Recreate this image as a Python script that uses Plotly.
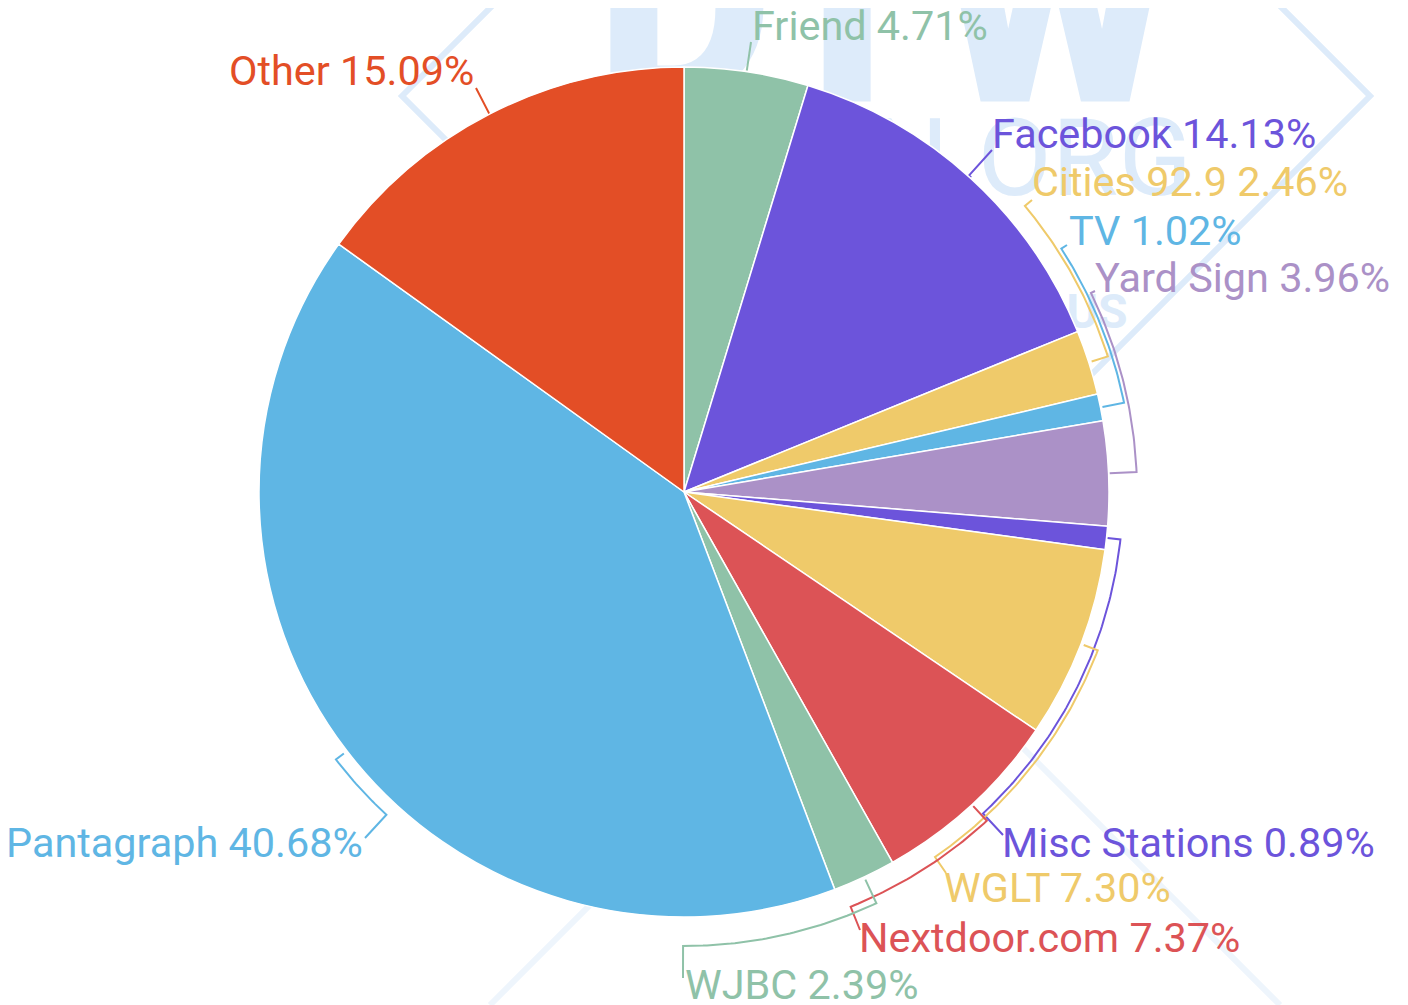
import math
import plotly.graph_objects as go

# ---------------- data ----------------
labels = ["Friend", "Facebook", "Cities 92.9", "TV", "Yard Sign", "Misc Stations",
          "WGLT", "Nextdoor.com", "WJBC", "Pantagraph", "Other"]
shares = [4.71, 14.13, 2.46, 1.02, 3.96, 0.89, 7.30, 7.37, 2.39, 40.68, 15.09]
colors = ["#8FC2A8", "#6C54DB", "#EFCA6A", "#5FB6E4", "#AB91C7", "#6C54DB",
          "#EFCA6A", "#DC5356", "#8FC2A8", "#5FB6E4", "#E34E26"]

# ---------------- layout / style ----------------
W, H = 1408, 1005
PAGE_OFF = 8          # the page body margin; axis values below are page pixels
CX, CY, R = 684, 492, 425
FONT = "Roboto"
FS = 41.4

# per-label leader/label styling: (conn_x, conn_y, arc_offset, tick_gap, text_x, text_y, anchor)
label_style = [
    (751, 42, 0, 1, 750, 26, "left"),
    (992, 150, 0, 1, 990, 134, "left"),
    (1032, 200, 20, 3, 1030, 182, "left"),
    (1067, 245, 24, 2, 1067, 231, "left"),
    (1095, 291, 28, 1, 1093, 278, "left"),
    (1003, 835, 14, 1, 1000, 843, "left"),
    (946, 873, 18, 3, 942, 888, "left"),
    (860, 930, 22, 2, 857, 938, "left"),
    (683, 978, 29, 3, 683, 985, "left"),
    (365, 838, 14, 4, 365, 843, "right"),
    (476, 88, 0, 1, 476, 71, "right"),
]

WM = "#DDEBFA"
WM2 = "#EEF5FC"


def pt(deg, r):
    a = math.radians(deg)
    return CX + r * math.sin(a), CY - r * math.cos(a)


fig = go.Figure()

# watermark (below the pie)
fig.add_trace(go.Scatter(
    x=[885, 1032, 1097], y=[33, 168, 316], mode="text",
    text=["DTW", "N.ORG", "US"],
    textfont=dict(family=FONT, size=[274, 108, 48], color=WM, weight=[900, 400, 700]),
    textposition="middle center", hoverinfo="skip", showlegend=False,
    xaxis="x", yaxis="y"))

# pie
fx, fy = CX - PAGE_OFF, CY - PAGE_OFF
dom_x = [(fx - R) / W, (fx + R) / W]
dom_y = [1 - (fy + R) / H, 1 - (fy - R) / H]
fig.add_trace(go.Pie(
    labels=labels, values=shares, sort=False, direction="clockwise", rotation=0,
    marker=dict(colors=colors, line=dict(color="white", width=1.5)),
    textinfo="none", hoverinfo="label+percent", showlegend=False,
    domain=dict(x=dom_x, y=dom_y)))

# leader lines computed from the slice angles
total = sum(shares)
cum = 0.0
annotations = []
for name, v, col, st in zip(labels, shares, colors, label_style):
    lx, ly, off, gap, tx, ty, anc = st
    mid = (cum + v / 2) / total * 360.0
    cum += v
    end = math.degrees(math.atan2(lx - CX, -(ly - CY)))
    while end - mid > 180:
        end -= 360
    while end - mid < -180:
        end += 360
    xs, ys = [], []
    x0, y0 = pt(mid, R + gap)
    xs.append(x0); ys.append(y0)
    n = max(2, int(abs(end - mid) * 2))
    for i in range(n + 1):
        d = mid + (end - mid) * i / n
        x1, y1 = pt(d, R + max(off, gap))
        xs.append(x1); ys.append(y1)
    xs.append(lx); ys.append(ly)
    fig.add_trace(go.Scatter(x=xs, y=ys, mode="lines", line=dict(color=col, width=2),
                             hoverinfo="skip", showlegend=False, xaxis="x", yaxis="y"))
    annotations.append(dict(
        x=tx, y=ty, xref="x", yref="y", text=f"{name} {v:.2f}%", showarrow=False,
        xanchor=anc, yanchor="middle", font=dict(family=FONT, size=FS, color=col)))

shapes = [
    dict(type="path", path="M 402 96 L 886 -388 L 1370 96 L 886 580 Z",
         xref="x", yref="y", line=dict(color=WM, width=6), layer="below"),
    dict(type="path", path="M 885 610 L 1280 1005 M 885 610 L 490 1005",
         xref="x", yref="y", line=dict(color=WM2, width=6), layer="below"),
]

fig.update_layout(
    width=W, height=H, autosize=False,
    margin=dict(l=0, r=0, t=0, b=0),
    paper_bgcolor="white", plot_bgcolor="white",
    xaxis=dict(range=[PAGE_OFF, W + PAGE_OFF], visible=False, fixedrange=True, domain=[0, 1]),
    yaxis=dict(range=[H + PAGE_OFF, PAGE_OFF], visible=False, fixedrange=True, domain=[0, 1]),
    annotations=annotations, shapes=shapes,
)

fig.write_html("out.html")
